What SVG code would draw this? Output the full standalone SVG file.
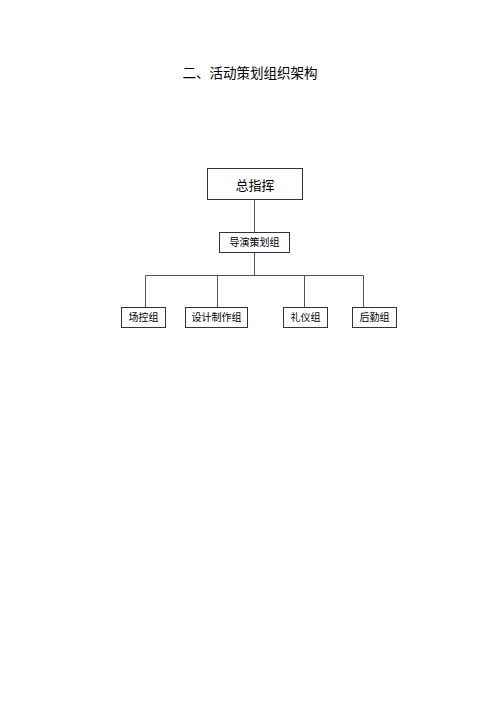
<svg xmlns="http://www.w3.org/2000/svg" width="500" height="707" viewBox="0 0 500 707">
<style>
.box{fill:#fff;stroke:#333;stroke-width:1}
.t{font-family:"Liberation Serif","Noto Sans CJK SC",serif;fill:#000;text-anchor:middle}
.s{font-size:10px}
.ln{stroke:#555;stroke-width:1;fill:none}
</style>
<rect width="500" height="707" fill="#fff"/>
<text class="t" x="250" y="78" font-size="13.5">二、活动策划组织架构</text>
<g id="connectors">
<path class="ln" d="M254.5 199V232M254.5 252V275.5M145.5 275.5H363.5M145.5 275.5V307M217.5 275.5V307M304.5 275.5V307M363.5 275.5V308"/>
</g>
<g id="n-zongzhihui"><rect class="box" x="207.5" y="168.5" width="95" height="31"/><text class="t" x="255" y="190" font-size="13">总指挥</text></g>
<g id="n-daoyan"><rect class="box" x="219.5" y="232.5" width="70" height="20"/><text class="t s" x="254.5" y="246">导演策划组</text></g>
<g id="n-changkong"><rect class="box" x="121.5" y="307.5" width="44" height="20"/><text class="t s" x="143.5" y="321">场控组</text></g>
<g id="n-sheji"><rect class="box" x="185.5" y="307.5" width="62" height="20"/><text class="t s" x="216.5" y="321">设计制作组</text></g>
<g id="n-liyi"><rect class="box" x="283.5" y="307.5" width="44" height="20"/><text class="t s" x="305.5" y="321">礼仪组</text></g>
<g id="n-houqin"><rect class="box" x="352.5" y="307.5" width="44" height="20"/><text class="t s" x="374.5" y="321">后勤组</text></g>
</svg>
